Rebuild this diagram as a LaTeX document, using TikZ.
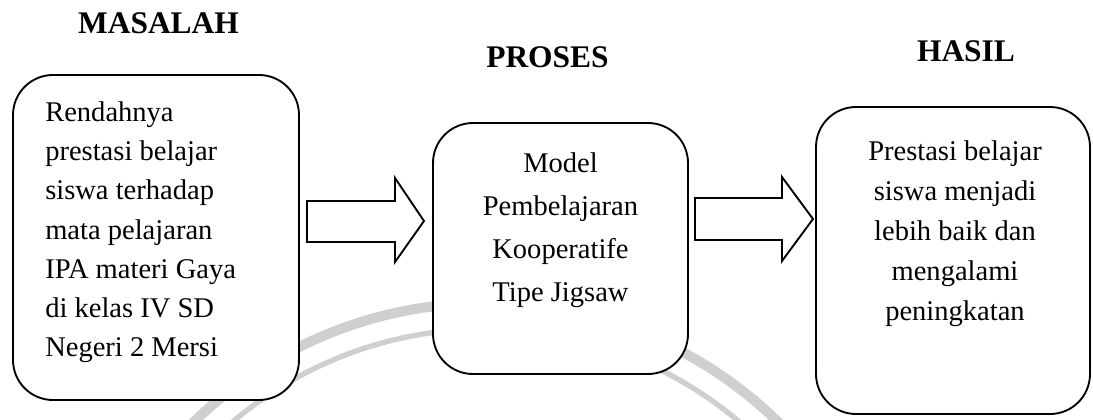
\documentclass[tikz,border=0pt]{standalone}
\usepackage{fontspec}
\setmainfont{Liberation Serif}
\begin{document}
\begin{tikzpicture}[x=0.75pt,y=-0.75pt,
  box/.style={draw, line width=1.4pt, rounded corners=30pt, fill=white,
    inner sep=0pt},
  blockarrow/.style={draw, line width=1.4pt, fill=white, line join=miter},
  heading/.style={inner sep=0pt, anchor=base,
    font=\fontsize{23.6}{28}\selectfont\bfseries},
  bodytext/.style={inner sep=0pt},
  seal/.style={draw=black!19}
]
\useasboundingbox (0,0) rectangle (1093,419);

% faint background seal: two concentric rings
\begin{scope}
  \clip (0,0) rectangle (1093,419);
  \coordinate (sealc) at (486,721);
  \draw[seal, line width=7.5pt] (sealc) circle[radius=313.5pt];
  \draw[seal, line width=4pt] (sealc) circle[radius=294pt];
\end{scope}

% headings
\node[heading] (hmasalah) at (158.5,33) {MASALAH};
\node[heading] (hproses)  at (547.5,67) {PROSES};
\node[heading] (hhasil)   at (966,61)   {HASIL};

% boxes
\node[box, minimum width=214.5pt, minimum height=243.75pt] (masalah) at (156,237.5) {};
\node[box, minimum width=191.25pt, minimum height=188.25pt] (proses) at (560.5,248.5) {};
\node[box, minimum width=205.5pt, minimum height=230.25pt] (hasil) at (953,260.5) {};

% box texts
\node[bodytext, anchor=north west, align=left,
  font=\fontsize{21.4}{29.4}\selectfont] (tmasalah) at (45,101.5)
  {Rendahnya\\ prestasi belajar\\ siswa terhadap\\ mata pelajaran\\
   IPA materi Gaya\\ di kelas IV SD\\ Negeri 2 Mersi};
\node[bodytext, anchor=north, align=center,
  font=\fontsize{21.4}{32.25}\selectfont] (tproses) at (560.5,152.5)
  {Model\\ Pembelajaran\\ Kooperatife\\ Tipe Jigsaw};
\node[bodytext, anchor=north, align=center,
  font=\fontsize{21.4}{30}\selectfont] (thasil) at (955,140.5)
  {Prestasi belajar\\ siswa menjadi\\ lebih baik dan\\ mengalami\\ peningkatan};

% block arrows between the boxes
\coordinate (a1) at (307,221.5);
\coordinate (a2) at (695,219);
\draw[blockarrow] (a1) ++(0,-20.5) -- ++(88,0) -- ++(0,-23) -- (424,221)
  -- (395,262) -- ++(0,-20) -- ++(-88,0) -- cycle;
\draw[blockarrow] (a2) ++(0,-21) -- ++(87,0) -- ++(0,-21) -- (813,219)
  -- (782,261) -- ++(0,-21) -- ++(-87,0) -- cycle;
\end{tikzpicture}
\end{document}
